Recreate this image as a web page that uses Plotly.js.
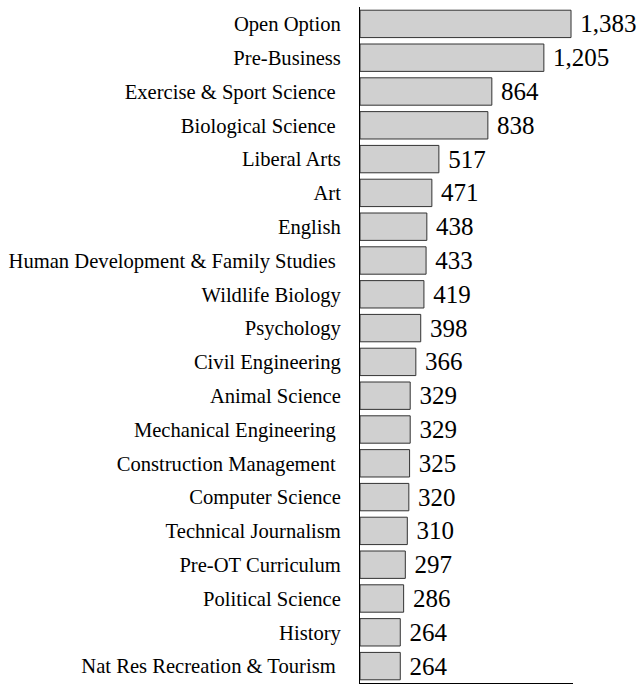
<!DOCTYPE html>
<html><head><meta charset="utf-8">
<script src="https://cdn.plot.ly/plotly-3.0.1.min.js"></script>
<style>body{margin:0;background:#fff}#c{width:641px;height:684px}</style>
</head><body><div id="c"></div>
<script>
const majors = ["Open Option","Pre-Business","Exercise & Sport Science\u00a0","Biological Science\u00a0","Liberal Arts","Art","English","Human Development & Family Studies\u00a0","Wildlife Biology","Psychology","Civil Engineering","Animal Science","Mechanical Engineering\u00a0","Construction Management\u00a0","Computer Science","Technical Journalism","Pre-OT Curriculum","Political Science","History","Nat Res Recreation & Tourism\u00a0"];
const students = [1383,1205,864,838,517,471,438,433,419,398,366,329,329,325,320,310,297,286,264,264];
const FONT = 'Liberation Serif';

Plotly.newPlot('c', [{
  type:'bar', orientation:'h', y: majors, x: students,
  marker:{color:'#d0d0d0', line:{color:'#333333', width:1}},
  width:0.81,
  text: students, texttemplate:'\u00a0%{x:,}', textposition:'outside', cliponaxis:false,
  textfont:{family:FONT, size:25, color:'#000'},
  hoverinfo:'none'
}], {
  width:641, height:684,
  margin:{l:360, r:68, t:7, b:1},
  paper_bgcolor:'#fff', plot_bgcolor:'#fff',
  font:{family:FONT, color:'#000'},
  showlegend:false,
  xaxis:{range:[0,1396], showgrid:false, zeroline:false, showline:true, linecolor:'#000', linewidth:1, showticklabels:false, ticks:''},
  yaxis:{autorange:'reversed', showgrid:false, zeroline:false, showline:true, linecolor:'#000', linewidth:1, ticks:'', ticklabelstandoff:14, tickfont:{size:20.6, family:FONT, color:'#000'}},
  bargap:0.19
}, {displayModeBar:false, staticPlot:true});
</script></body></html>
